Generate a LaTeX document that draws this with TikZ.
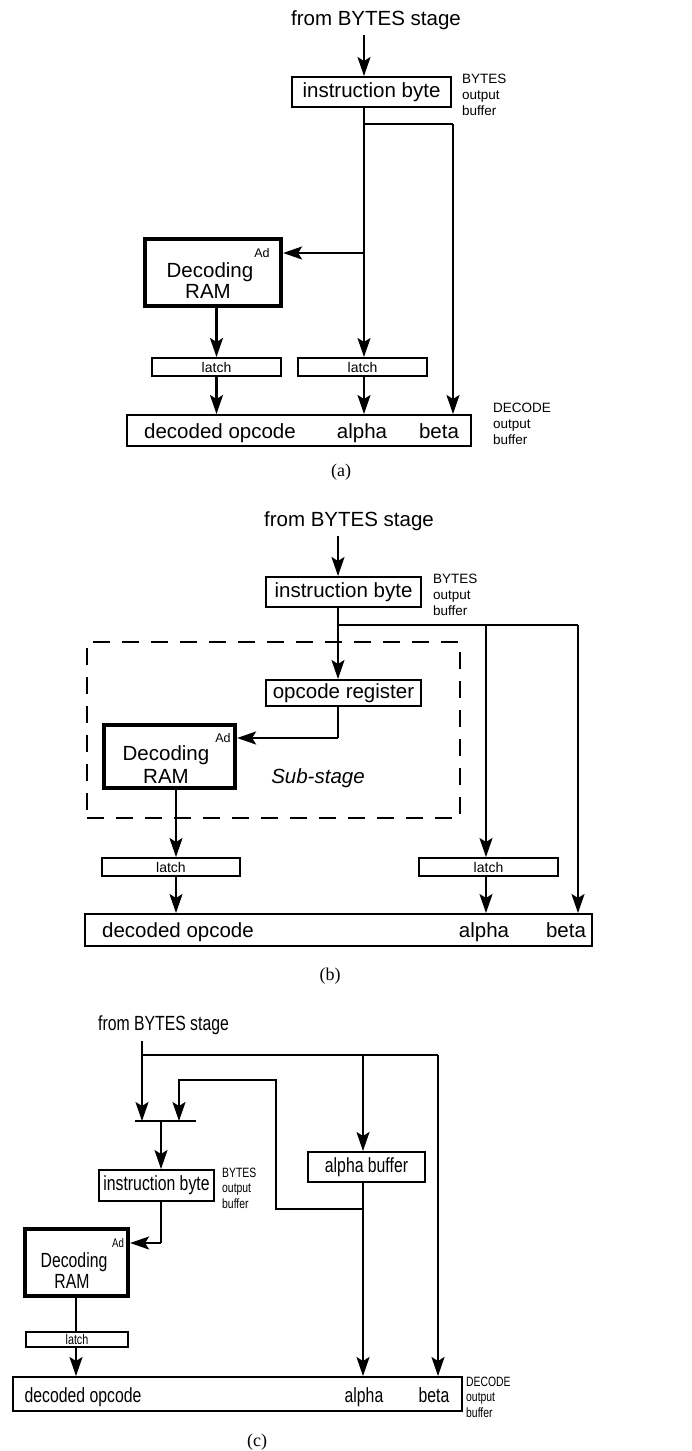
\documentclass[tikz,border=0pt]{standalone}
\usepackage{fontspec}
\setmainfont{Liberation Sans}
\newfontfamily\capfont{Liberation Serif}
\newfontfamily\condfont[FakeStretch=0.77]{Liberation Sans}
\usetikzlibrary{arrows.meta}
\begin{document}
\begin{tikzpicture}[x=1pt,y=-1pt,
  conn/.style={line width=2.1pt},
  arr/.style={line width=2.1pt,-{Stealth[length=19pt,width=13pt,inset=4pt]}},
  box/.style={draw,line width=2pt,inner sep=0pt},
  ram/.style={draw,line width=4.2pt,inner sep=0pt},
  txt/.style={inner sep=0pt,font=\fontsize{20.5}{22}\selectfont},
  ctxt/.style={inner sep=0pt,font=\condfont\fontsize{20.5}{22}\selectfont},
  small/.style={inner sep=0pt,align=left,font=\fontsize{13.5}{16}\selectfont},
  csmall/.style={inner sep=0pt,align=left,font=\condfont\fontsize{13.5}{15.5}\selectfont},
  latchbox/.style={draw,line width=2pt,inner sep=0pt,font=\fontsize{14}{16}\selectfont},
  clatchbox/.style={draw,line width=2pt,inner sep=0pt,font=\condfont\fontsize{14}{16}\selectfont},
  adt/.style={inner sep=0pt,font=\fontsize{12.5}{14}\selectfont},
  cadt/.style={inner sep=0pt,font=\condfont\fontsize{12.5}{14}\selectfont},
  capt/.style={inner sep=0pt,font=\capfont\fontsize{18}{20}\selectfont},
  dashbox/.style={draw,line width=2pt,dash pattern=on 17pt off 12pt,inner sep=0pt}]
\useasboundingbox (0,0) rectangle (692,1451);

% ---------------- panel (a) ----------------
\node[txt] (fromA) at (376,20) {from BYTES stage};
\coordinate (fa) at (364,35);
\node[box,txt,minimum width=159pt,minimum height=30pt] (ibA) at (371.5,92) {instruction byte};
\node[small,anchor=west] (bobA) at (462,95) {BYTES\\output\\buffer};
\coordinate (ja1) at (364,124);
\coordinate (jb1) at (453,124);
\coordinate (ja2) at (364,253);
\node[ram,minimum width=136pt,minimum height=67pt] (ramA) at (213,272.5) {};
\node[adt] (adA) at (262,253) {Ad};
\node[txt,anchor=base] (decA) at (210,277) {Decoding};
\node[txt,anchor=base] (rA) at (208,298) {RAM};
\node[latchbox,minimum width=129pt,minimum height=18pt] (l1A) at (216.5,367) {latch};
\node[latchbox,minimum width=129pt,minimum height=18pt] (l2A) at (362.5,367) {latch};
\node[box,minimum width=344pt,minimum height=31pt] (dA) at (299,430.5) {};
\node[txt,anchor=base] (docA) at (220,438) {decoded opcode};
\node[txt,anchor=base] (alA) at (362,438) {alpha};
\node[txt,anchor=base] (beA) at (439,438) {beta};
\node[small,anchor=west] (dobA) at (493,424) {DECODE\\output\\buffer};
\node[capt] (capA) at (341,472) {(a)};

\draw[arr] (fa) -- (fa |- ibA.north);
\draw[conn] (ja1 |- ibA.south) -- (ja1) -- (jb1);
\draw[arr] (jb1) -- (jb1 |- dA.north);
\draw[arr] (ja1) -- (ja1 |- l2A.north);
\draw[arr] (ja2) -- (ja2 -| ramA.east);
\draw[arr] (l1A.north |- ramA.south) -- (l1A.north);
\draw[arr] (l1A.south) -- (l1A.south |- dA.north);
\draw[arr] (ja1 |- l2A.south) -- (ja1 |- dA.north);

% ---------------- panel (b) ----------------
\node[txt] (fromB) at (349,521) {from BYTES stage};
\coordinate (fb) at (338,536);
\node[box,txt,minimum width=155pt,minimum height=30pt] (ibB) at (343.5,592) {instruction byte};
\node[small,anchor=west] (bobB) at (433,595) {BYTES\\output\\buffer};
\coordinate (jB1) at (338,625);
\coordinate (jB2) at (486,625);
\coordinate (jB3) at (578,625);
\node[dashbox,minimum width=373pt,minimum height=176pt] (subB) at (273.5,730) {};
\node[box,txt,minimum width=155pt,minimum height=26pt] (opB) at (343.5,693) {opcode register};
\coordinate (jB4) at (338,738);
\node[ram,minimum width=131pt,minimum height=63pt] (ramB) at (169.5,756.5) {};
\node[adt] (adB) at (223,738) {Ad};
\node[txt,anchor=base] (decB) at (166,760) {Decoding};
\node[txt,anchor=base] (rB) at (166,783) {RAM};
\node[txt,font=\itshape\fontsize{20.5}{22}\selectfont] (ssB) at (318,778) {Sub-stage};
\coordinate (xB) at (176,857);
\node[latchbox,minimum width=138pt,minimum height=18pt] (l1B) at (171,867) {latch};
\node[latchbox,minimum width=139pt,minimum height=18pt] (l2B) at (488.5,867) {latch};
\node[box,minimum width=507pt,minimum height=32pt] (dB) at (338.5,930) {};
\node[txt,anchor=base] (docB) at (178,937) {decoded opcode};
\node[txt,anchor=base] (alB) at (484,937) {alpha};
\node[txt,anchor=base] (beB) at (566,937) {beta};
\node[capt] (capB) at (330,976) {(b)};

\draw[arr] (fb) -- (fb |- ibB.north);
\draw[conn] (fb |- ibB.south) -- (jB1) -- (jB3);
\draw[arr] (jB1) -- (jB1 |- opB.north);
\draw[arr] (jB2) -- (jB2 |- l2B.north);
\draw[arr] (jB3) -- (jB3 |- dB.north);
\draw[conn] (jB1 |- opB.south) -- (jB4);
\draw[arr] (jB4) -- (jB4 -| ramB.east);
\draw[arr] (xB |- ramB.south) -- (xB);
\draw[arr] (xB |- l1B.south) -- (xB |- dB.north);
\draw[arr] (jB2 |- l2B.south) -- (jB2 |- dB.north);

% ---------------- panel (c) ----------------
\node[ctxt] (fromC) at (163.5,1025) {from BYTES stage};
\coordinate (fc) at (142,1041);
\coordinate (jc1) at (142,1055);
\coordinate (jc2) at (363,1055);
\coordinate (jc3) at (438,1055);
\coordinate (barL) at (135,1121);
\coordinate (barR) at (196,1121);
\coordinate (barM) at (161,1121);
\coordinate (fk1) at (179,1080);
\coordinate (fk2) at (276,1080);
\coordinate (fk3) at (276,1209);
\coordinate (fk4) at (363,1209);
\node[box,ctxt,minimum width=115pt,minimum height=31pt] (ibC) at (156.5,1185.5) {instruction byte};
\node[csmall,anchor=west] (bobC) at (222,1188) {BYTES\\output\\buffer};
\node[box,ctxt,minimum width=117pt,minimum height=30pt] (abC) at (366.5,1167) {alpha buffer};
\coordinate (jc4) at (161,1243);
\node[ram,minimum width=103pt,minimum height=67pt] (ramC) at (76.5,1262.5) {};
\node[cadt] (adC) at (118,1243) {Ad};
\node[ctxt,anchor=base] (decC) at (74,1267) {Decoding};
\node[ctxt,anchor=base] (rC) at (72,1288) {RAM};
\coordinate (xc) at (76,1331);
\node[clatchbox,minimum width=102pt,minimum height=15pt] (lC) at (77,1339.5) {latch};
\node[box,minimum width=449pt,minimum height=34pt] (dC) at (237.5,1394) {};
\node[ctxt,anchor=base] (docC) at (83,1402) {decoded opcode};
\node[ctxt,anchor=base] (alC) at (364,1402) {alpha};
\node[ctxt,anchor=base] (beC) at (434,1402) {beta};
\node[csmall,anchor=west] (dobC) at (466,1397) {DECODE\\output\\buffer};
\node[capt] (capC) at (257,1442) {(c)};

\draw[arr] (fc) -- (fc |- barL);
\draw[conn] (jc1) -- (jc3);
\draw[conn] (barL) -- (barR);
\draw[arr] (fk4) -- (fk3) -- (fk2) -- (fk1) -- (fk1 |- barL);
\draw[arr] (barM) -- (barM |- ibC.north);
\draw[arr] (jc2) -- (jc2 |- abC.north);
\draw[arr] (jc2 |- abC.south) -- (jc2 |- dC.north);
\draw[arr] (jc3) -- (jc3 |- dC.north);
\draw[conn] (barM |- ibC.south) -- (jc4);
\draw[arr] (jc4) -- (jc4 -| ramC.east);
\draw[conn] (xc |- ramC.south) -- (xc |- lC.north);
\draw[arr] (xc |- lC.south) -- (xc |- dC.north);
\end{tikzpicture}
\end{document}
